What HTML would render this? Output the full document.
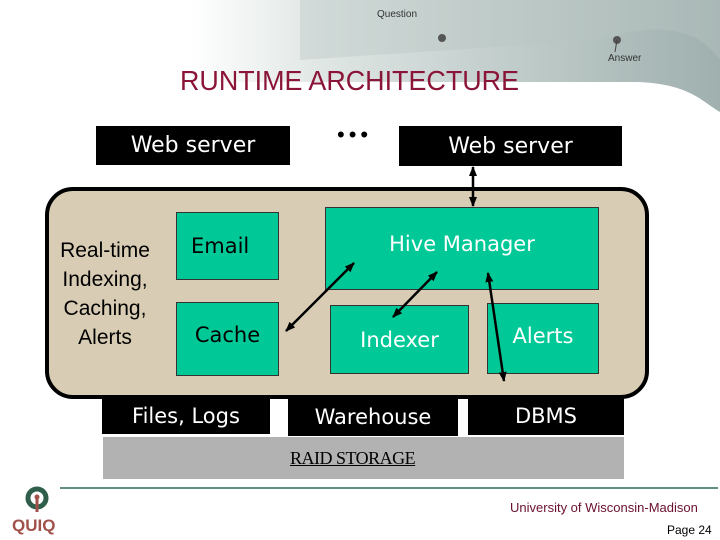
<!DOCTYPE html>
<html><head><meta charset="utf-8"><style>
body{margin:0;width:720px;height:540px;position:relative;background:#fff;overflow:hidden;font-family:"Liberation Sans",sans-serif}
.a{position:absolute}
.bk{position:absolute;background:#000;color:#fff;font-family:"DejaVu Sans",sans-serif;font-size:21px;display:flex;align-items:center;justify-content:center}
.g{position:absolute;background:#00c896;border:1px solid #333;display:flex;align-items:center;justify-content:center;font-family:"DejaVu Sans",sans-serif;font-size:21px}
</style></head><body>
<svg class="a" style="left:0;top:0" width="720" height="120">
<defs><linearGradient id="hg" x1="0" x2="1"><stop offset="0" stop-color="#fff"/><stop offset="0.25" stop-color="#dfe6e4"/><stop offset="1" stop-color="#9fb0ae"/></linearGradient></defs>
<path d="M190 0 H720 V112 C700 100 690 85 640 82 H190 Z" fill="url(#hg)"/>
<path d="M300 0 H720 V60 C700 30 660 20 600 40 L300 60Z" fill="#b8c6c4" opacity="0.4"/>
<text x="377" y="17" font-size="10" font-family="Liberation Sans" fill="#333">Question</text>
<circle cx="442" cy="38" r="4" fill="#555"/>
<circle cx="617" cy="40" r="4" fill="#555"/><line x1="617" y1="40" x2="615" y2="52" stroke="#444"/>
<text x="608" y="61" font-size="10" font-family="Liberation Sans" fill="#333">Answer</text>
</svg>
<div class="a" style="left:180px;top:65px;font-size:28px;color:#8b1538;transform:scaleX(0.96);transform-origin:left">RUNTIME ARCHITECTURE</div>
<div class="bk" style="left:96px;top:126px;width:194px;height:39px;font-size:22px">Web server</div>
<div class="bk" style="left:399px;top:126px;width:223px;height:40px;font-size:22px">Web server</div>
<div class="a" style="left:337px;top:122px;font-size:22px;letter-spacing:4px">•••</div>
<div class="a" style="left:45px;top:187px;width:596px;height:204px;background:#d8ccb4;border:4px solid #000;border-radius:28px"></div>
<div class="a" style="left:50px;top:236px;width:110px;text-align:center;font-size:21px;line-height:29px">Real-time Indexing, Caching, Alerts</div>
<div class="g" style="left:176px;top:212px;width:101px;height:66px;justify-content:flex-start"><span style="margin-left:14px">Email</span></div>
<div class="g" style="left:176px;top:302px;width:101px;height:72px;align-items:flex-start"><span style="margin-top:20px">Cache</span></div>
<div class="g" style="left:325px;top:207px;width:272px;height:81px;color:#fff;align-items:flex-start"><span style="margin-top:24px">Hive Manager</span></div>
<div class="g" style="left:330px;top:305px;width:137px;height:67px;color:#fff">Indexer</div>
<div class="g" style="left:487px;top:303px;width:110px;height:69px;color:#fff;align-items:flex-start"><span style="margin-top:20px">Alerts</span></div>
<div class="bk" style="left:102px;top:397px;width:168px;height:37px">Files, Logs</div>
<div class="bk" style="left:288px;top:397px;width:170px;height:39px">Warehouse</div>
<div class="bk" style="left:468px;top:397px;width:156px;height:38px">DBMS</div>
<div class="a" style="left:103px;top:437px;width:521px;height:42px;background:#b2b2b2"></div>
<div class="a" style="left:290px;top:448px;font-family:'Liberation Serif',serif;font-size:18px;text-decoration:underline;letter-spacing:-0.5px">RAID STORAGE</div>
<svg class="a" style="left:0;top:0" width="720" height="540">
<defs><marker id="m" markerUnits="userSpaceOnUse" markerWidth="10" markerHeight="8" refX="9" refY="4" orient="auto-start-reverse"><path d="M0 0 L10 4 L0 8Z" fill="#000"/></marker></defs>
<g stroke="#000" stroke-width="2.5">
<line x1="473" y1="167" x2="473" y2="206" marker-start="url(#m)" marker-end="url(#m)"/>
<line x1="286" y1="331" x2="354" y2="263" marker-start="url(#m)" marker-end="url(#m)"/>
<line x1="393" y1="317" x2="437" y2="272" marker-start="url(#m)" marker-end="url(#m)"/>
<line x1="488" y1="273" x2="504" y2="381" marker-start="url(#m)" marker-end="url(#m)"/>
</g>
<line x1="60" y1="488" x2="718" y2="488" stroke="#2f6b5a" stroke-width="1.5"/>
<circle cx="37" cy="498" r="9" fill="none" stroke="#2f5f4a" stroke-width="5"/>
<line x1="37" y1="498" x2="37" y2="512" stroke="#a0524a" stroke-width="3"/>
<circle cx="37" cy="497" r="2.5" fill="#a0524a"/>
<text x="12" y="531" font-size="17" font-weight="bold" fill="#a0524a" font-family="Liberation Sans">QUIQ</text>
</svg>
<div class="a" style="left:510px;top:500px;font-size:13px;color:#6a1030">University of Wisconsin-Madison</div>
<div class="a" style="left:667px;top:523px;font-size:12px">Page 24</div>
</body></html>
